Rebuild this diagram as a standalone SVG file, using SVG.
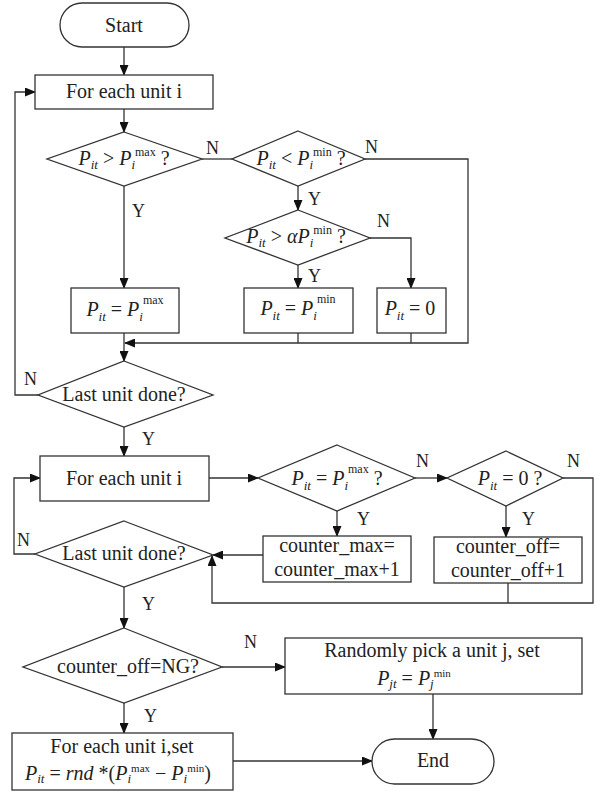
<svg xmlns="http://www.w3.org/2000/svg" width="602" height="793" viewBox="0 0 602 793">
<defs>
<marker id="ah" markerWidth="11" markerHeight="9" refX="10" refY="4.5" orient="auto" markerUnits="userSpaceOnUse">
<path d="M0,0 L11,4.5 L0,9 z" fill="#111"/>
</marker>
<style>
.n{fill:#fff;stroke:#333;stroke-width:1.3}
.c{fill:none;stroke:#333;stroke-width:1.3}
.a{marker-end:url(#ah)}
text{font-family:"Liberation Serif","Times New Roman",serif;font-size:20px;fill:#222;text-anchor:middle}
.m{font-style:italic}
.u{font-style:normal}
.s{font-size:13px}
.sp{font-size:12px;font-style:normal}
.sq{font-size:11px;font-style:normal}
.l{font-size:18px;text-anchor:start}
</style>
</defs>
<rect width="602" height="793" fill="#fff"/>

<g id="connectors">
<path class="c a" d="M124,47 V75"/>
<path class="c a" d="M124,109 V132"/>
<path class="c" d="M202,159 H232"/>
<path class="c a" d="M365,159 H468 V343 H125"/>
<path class="c a" d="M298,186 V210"/>
<path class="c a" d="M298,265 V288"/>
<path class="c a" d="M370,238 H411 V288"/>
<path class="c" d="M298,333 V343"/>
<path class="c" d="M411,333 V343"/>
<path class="c a" d="M124,186 V288"/>
<path class="c a" d="M124,333 V361"/>
<path class="c a" d="M38,395 H15 V92 H35"/>
<path class="c a" d="M124,427 V456"/>
<path class="c a" d="M209,478 H258"/>
<path class="c a" d="M415,478 H447"/>
<path class="c a" d="M337,511 V536"/>
<path class="c a" d="M506,506 V537"/>
<path class="c a" d="M263,555 H213"/>
<path class="c a" d="M563,478 H593 V603 H212 V556"/>
<path class="c" d="M508,583 V603"/>
<path class="c a" d="M35,554 H14 V478 H40"/>
<path class="c a" d="M124,587 V628"/>
<path class="c a" d="M222,667 H285"/>
<path class="c a" d="M124,703 V733"/>
<path class="c a" d="M433,694 V739"/>
<path class="c a" d="M233,761 H372"/>
</g>

<g id="labels">
<text class="l" x="206" y="154">N</text>
<text class="l" x="365" y="153">N</text>
<text class="l" x="308" y="205">Y</text>
<text class="l" x="377" y="227">N</text>
<text class="l" x="308" y="282">Y</text>
<text class="l" x="132" y="217">Y</text>
<text class="l" x="24" y="385">N</text>
<text class="l" x="142" y="445">Y</text>
<text class="l" x="416" y="467">N</text>
<text class="l" x="567" y="467">N</text>
<text class="l" x="357" y="525">Y</text>
<text class="l" x="522" y="525">Y</text>
<text class="l" x="17" y="546">N</text>
<text class="l" x="142" y="610">Y</text>
<text class="l" x="244" y="648">N</text>
<text class="l" x="144" y="722">Y</text>
</g>

<g id="start">
<rect class="n" x="60" y="3" width="129" height="44" rx="22"/>
<text x="124" y="32">Start</text>
</g>

<g id="loop1">
<rect class="n" x="35" y="75" width="178" height="34"/>
<text x="124" y="98">For each unit i</text>
</g>

<g id="check-max">
<polygon class="n" points="124,132 202,159 124,186 47,159"/>
<text class="m" x="124" y="165">P<tspan class="s" dy="4">it</tspan><tspan class="u" dy="-4"> &gt; </tspan>P<tspan class="s" dy="4">i</tspan><tspan class="sp" dy="-13">max</tspan><tspan class="u" dy="9"> ?</tspan></text>
</g>

<g id="check-min">
<polygon class="n" points="298,131 365,159 298,186 232,159"/>
<text class="m" x="301" y="165">P<tspan class="s" dy="4">it</tspan><tspan class="u" dy="-4"> &lt; </tspan>P<tspan class="s" dy="4">i</tspan><tspan class="sp" dy="-13">min</tspan><tspan class="u" dy="9"> ?</tspan></text>
</g>

<g id="check-alpha">
<polygon class="n" points="298,210 370,238 298,265 225,238"/>
<text class="m" x="296" y="243">P<tspan class="s" dy="4">it</tspan><tspan class="u" dy="-4"> &gt; </tspan>αP<tspan class="s" dy="4">i</tspan><tspan class="sp" dy="-13">min</tspan><tspan class="u" dy="9"> ?</tspan></text>
</g>

<g id="set-max">
<rect class="n" x="71" y="288" width="108" height="45"/>
<text class="m" x="125" y="316">P<tspan class="s" dy="5">it</tspan><tspan class="u" dy="-5"> = </tspan>P<tspan class="s" dy="5">i</tspan><tspan class="sp" dy="-17">max</tspan></text>
</g>

<g id="set-min">
<rect class="n" x="244" y="288" width="109" height="45"/>
<text class="m" x="298" y="315">P<tspan class="s" dy="5">it</tspan><tspan class="u" dy="-5"> = </tspan>P<tspan class="s" dy="5">i</tspan><tspan class="sp" dy="-17">min</tspan></text>
</g>

<g id="set-zero">
<rect class="n" x="377" y="288" width="69" height="45"/>
<text class="m" x="410" y="315">P<tspan class="s" dy="5">it</tspan><tspan class="u" dy="-5"> = 0</tspan></text>
</g>

<g id="last1">
<polygon class="n" points="124,361 213,395 124,427 38,395"/>
<text x="124" y="401">Last unit done?</text>
</g>

<g id="loop2">
<rect class="n" x="40" y="456" width="169" height="45"/>
<text x="124" y="485">For each unit i</text>
</g>

<g id="eq-max">
<polygon class="n" points="337,445 415,478 337,511 258,478"/>
<text class="m" x="337" y="485">P<tspan class="s" dy="5">it</tspan><tspan class="u" dy="-5"> = </tspan>P<tspan class="s" dy="5">i</tspan><tspan class="sp" dy="-17">max</tspan><tspan class="u" dy="12"> ?</tspan></text>
</g>

<g id="eq-zero">
<polygon class="n" points="506,451 563,478 506,506 447,478"/>
<text class="m" x="510" y="485">P<tspan class="s" dy="5">it</tspan><tspan class="u" dy="-5"> = 0 ?</tspan></text>
</g>

<g id="cnt-max">
<rect class="n" x="263" y="536" width="148" height="46"/>
<text x="337" y="552">counter_max=</text>
<text x="337" y="576">counter_max+1</text>
</g>

<g id="cnt-off">
<rect class="n" x="434" y="537" width="148" height="46"/>
<text x="508" y="553">counter_off=</text>
<text x="508" y="577">counter_off+1</text>
</g>

<g id="last2">
<polygon class="n" points="124,521 213,555 124,587 35,554"/>
<text x="124" y="560">Last unit done?</text>
</g>

<g id="check-ng">
<polygon class="n" points="124,628 222,667 124,703 23,667"/>
<text x="128" y="673">counter_off=NG?</text>
</g>

<g id="random">
<rect class="n" x="285" y="638" width="297" height="56"/>
<text x="432" y="657">Randomly pick a unit j, set</text>
<text class="m" x="414" y="685">P<tspan class="s" dy="3">jt</tspan><tspan class="u" dy="-3"> = </tspan>P<tspan class="s" dy="3">j</tspan><tspan class="sq" dy="-11">min</tspan></text>
</g>

<g id="rand-all">
<rect class="n" x="12" y="733" width="221" height="57"/>
<text x="122" y="753">For each unit i,set</text>
<text class="m" x="118" y="780">P<tspan class="s" dy="3">it</tspan><tspan class="u" dy="-3"> = </tspan>rnd<tspan class="u"> *(</tspan>P<tspan class="s" dy="3">i</tspan><tspan class="sq" dy="-11">max</tspan><tspan class="u" dy="8"> − </tspan>P<tspan class="s" dy="3">i</tspan><tspan class="sq" dy="-11">min</tspan><tspan class="u" dy="8">)</tspan></text>
</g>

<g id="end">
<rect class="n" x="372" y="739" width="122" height="45" rx="22.5"/>
<text x="433" y="767">End</text>
</g>
</svg>
